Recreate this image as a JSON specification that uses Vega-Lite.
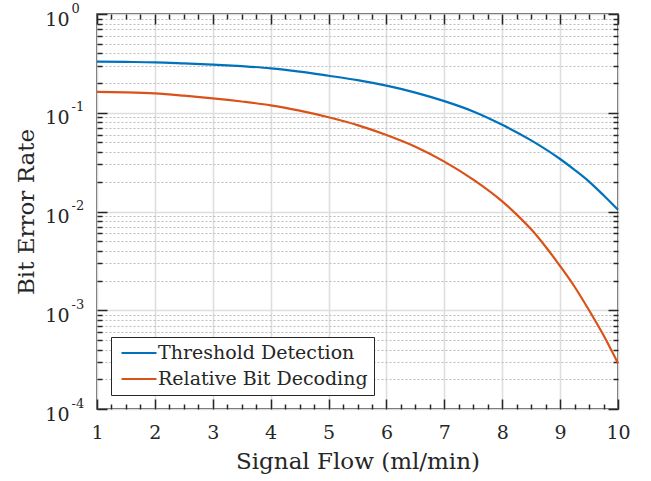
{
  "$schema": "https://vega.github.io/schema/vega-lite/v6.json",
  "autosize": "none",
  "width": 521,
  "height": 395,
  "padding": {"left": 97, "top": 14, "right": 33, "bottom": 72},
  "background": "white",
  "config": {
    "font": "DejaVu Serif",
    "view": {"stroke": "#262626", "strokeWidth": 1.5},
    "axis": {"domain": false, "labelFont": "DejaVu Serif", "titleFont": "DejaVu Serif", "labelColor": "#262626", "titleColor": "#262626", "tickColor": "#262626", "tickWidth": 1.5, "titleFontWeight": "normal", "labelFlush": false}
  },
  "data": {"values": [
    {"x": 1, "y": 0.329, "s": "Threshold Detection"},
    {"x": 1.5, "y": 0.327, "s": "Threshold Detection"},
    {"x": 2, "y": 0.324, "s": "Threshold Detection"},
    {"x": 2.5, "y": 0.316, "s": "Threshold Detection"},
    {"x": 3, "y": 0.307, "s": "Threshold Detection"},
    {"x": 3.5, "y": 0.296, "s": "Threshold Detection"},
    {"x": 4, "y": 0.282, "s": "Threshold Detection"},
    {"x": 4.5, "y": 0.261, "s": "Threshold Detection"},
    {"x": 5, "y": 0.237, "s": "Threshold Detection"},
    {"x": 5.5, "y": 0.214, "s": "Threshold Detection"},
    {"x": 6, "y": 0.188, "s": "Threshold Detection"},
    {"x": 6.5, "y": 0.16, "s": "Threshold Detection"},
    {"x": 7, "y": 0.131, "s": "Threshold Detection"},
    {"x": 7.5, "y": 0.103, "s": "Threshold Detection"},
    {"x": 8, "y": 0.0755, "s": "Threshold Detection"},
    {"x": 8.5, "y": 0.0525, "s": "Threshold Detection"},
    {"x": 9, "y": 0.034, "s": "Threshold Detection"},
    {"x": 9.25, "y": 0.0264, "s": "Threshold Detection"},
    {"x": 9.5, "y": 0.0201, "s": "Threshold Detection"},
    {"x": 9.75, "y": 0.0146, "s": "Threshold Detection"},
    {"x": 10, "y": 0.0104, "s": "Threshold Detection"},
    {"x": 1, "y": 0.163, "s": "Relative Bit Decoding"},
    {"x": 1.5, "y": 0.161, "s": "Relative Bit Decoding"},
    {"x": 2, "y": 0.157, "s": "Relative Bit Decoding"},
    {"x": 2.5, "y": 0.149, "s": "Relative Bit Decoding"},
    {"x": 3, "y": 0.14, "s": "Relative Bit Decoding"},
    {"x": 3.5, "y": 0.13, "s": "Relative Bit Decoding"},
    {"x": 4, "y": 0.119, "s": "Relative Bit Decoding"},
    {"x": 4.5, "y": 0.105, "s": "Relative Bit Decoding"},
    {"x": 5, "y": 0.09, "s": "Relative Bit Decoding"},
    {"x": 5.5, "y": 0.075, "s": "Relative Bit Decoding"},
    {"x": 6, "y": 0.0595, "s": "Relative Bit Decoding"},
    {"x": 6.5, "y": 0.0453, "s": "Relative Bit Decoding"},
    {"x": 7, "y": 0.032, "s": "Relative Bit Decoding"},
    {"x": 7.5, "y": 0.021, "s": "Relative Bit Decoding"},
    {"x": 8, "y": 0.01265, "s": "Relative Bit Decoding"},
    {"x": 8.25, "y": 0.0093, "s": "Relative Bit Decoding"},
    {"x": 8.5, "y": 0.0066, "s": "Relative Bit Decoding"},
    {"x": 8.75, "y": 0.0044, "s": "Relative Bit Decoding"},
    {"x": 9, "y": 0.0028, "s": "Relative Bit Decoding"},
    {"x": 9.25, "y": 0.00173, "s": "Relative Bit Decoding"},
    {"x": 9.5, "y": 0.001, "s": "Relative Bit Decoding"},
    {"x": 9.75, "y": 0.000557, "s": "Relative Bit Decoding"},
    {"x": 10, "y": 0.00029, "s": "Relative Bit Decoding"}
  ]},
  "resolve": {"axis": {"x": "independent", "y": "independent"}},
  "layer": [
    {
      "mark": {"type": "point", "opacity": 0},
      "encoding": {
        "x": {"field": "x", "type": "quantitative", "scale": {"domain": [1, 10], "nice": false, "zero": false},
          "axis": {"orient": "bottom", "values": [1.25,1.5,1.75,2.25,2.5,2.75,3.25,3.5,3.75,4.25,4.5,4.75,5.25,5.5,5.75,6.25,6.5,6.75,7.25,7.5,7.75,8.25,8.5,8.75,9.25,9.5,9.75], "labels": false, "grid": false, "tickSize": -5, "title": null}},
        "y": {"field": "y", "type": "quantitative", "scale": {"type": "log", "domain": [0.0001, 1], "nice": false},
          "axis": {"orient": "left", "values": [0.0002,0.0003,0.0004,0.0005,0.0006,0.0007,0.0008,0.0009,0.002,0.003,0.004,0.005,0.006,0.007,0.008,0.009,0.02,0.03,0.04,0.05,0.06,0.07,0.08,0.09,0.2,0.3,0.4,0.5,0.6,0.7,0.8,0.9], "labels": false, "grid": true, "gridColor": "#bcbcbc", "gridDash": [2, 2], "gridWidth": 1.2, "tickSize": -5, "title": null}}
      }
    },
    {
      "mark": {"type": "point", "opacity": 0},
      "encoding": {
        "x": {"field": "x", "type": "quantitative",
          "axis": {"orient": "top", "values": [1.25,1.5,1.75,2.25,2.5,2.75,3.25,3.5,3.75,4.25,4.5,4.75,5.25,5.5,5.75,6.25,6.5,6.75,7.25,7.5,7.75,8.25,8.5,8.75,9.25,9.5,9.75], "labels": false, "grid": false, "tickSize": -5, "title": null}},
        "y": {"field": "y", "type": "quantitative",
          "axis": {"orient": "right", "values": [0.0002,0.0003,0.0004,0.0005,0.0006,0.0007,0.0008,0.0009,0.002,0.003,0.004,0.005,0.006,0.007,0.008,0.009,0.02,0.03,0.04,0.05,0.06,0.07,0.08,0.09,0.2,0.3,0.4,0.5,0.6,0.7,0.8,0.9], "labels": false, "grid": false, "tickSize": -5, "title": null}}
      }
    },
    {
      "mark": {"type": "point", "opacity": 0},
      "encoding": {
        "x": {"field": "x", "type": "quantitative",
          "axis": {"orient": "top", "values": [1,2,3,4,5,6,7,8,9,10], "labels": false, "grid": false, "tickSize": -10, "title": null}},
        "y": {"field": "y", "type": "quantitative",
          "axis": {"orient": "right", "values": [0.0001, 0.001, 0.01, 0.1, 1], "labels": false, "grid": false, "tickSize": -10, "title": null}}
      }
    },
    {
      "mark": {"type": "point", "opacity": 0},
      "encoding": {
        "x": {"field": "x", "type": "quantitative",
          "axis": {"orient": "bottom", "values": [1,2,3,4,5,6,7,8,9,10], "labels": false, "grid": false, "tickSize": -10, "title": null}},
        "y": {"field": "y", "type": "quantitative",
          "axis": {"orient": "left", "values": [0.0001, 0.001, 0.01, 0.1, 1], "labelExpr": "datum.value >= 0.5 ? '0' : datum.value >= 0.05 ? '-1' : datum.value >= 0.005 ? '-2' : datum.value >= 0.0005 ? '-3' : '-4'", "labelAlign": "left", "labelBaseline": "middle", "labelPadding": 36, "labelFontSize": 13, "labelOffset": -6, "grid": false, "tickSize": -10, "title": null}}
      }
    },
    {
      "mark": {"type": "line", "strokeWidth": 2.2, "interpolate": "monotone"},
      "encoding": {
        "x": {"field": "x", "type": "quantitative",
          "axis": {"orient": "bottom", "values": [1,2,3,4,5,6,7,8,9,10], "ticks": false, "grid": true, "gridColor": "#dedede", "gridWidth": 1.6, "labelFontSize": 19, "labelPadding": 14, "title": "Signal Flow (ml/min)", "titleFontSize": 23, "titlePadding": 8}},
        "y": {"field": "y", "type": "quantitative",
          "axis": {"orient": "left", "values": [0.0001, 0.001, 0.01, 0.1, 1], "ticks": false, "grid": true, "gridColor": "#dedede", "gridWidth": 1.6, "labelFontSize": 19, "labelPadding": 28, "labelAlign": "right", "labelBaseline": "middle", "labelOffset": 5,
            "labelExpr": "'10'",
            "title": "Bit Error Rate", "titleFontSize": 23, "titlePadding": 6}},
        "color": {"field": "s", "type": "nominal",
          "scale": {"domain": ["Threshold Detection", "Relative Bit Decoding"], "range": ["#0072BD", "#D95319"]},
          "legend": {"orient": "bottom-left", "offset": 14, "title": null, "fillColor": "white", "strokeColor": "#262626", "padding": 6, "labelFontSize": 19, "labelFont": "DejaVu Serif", "labelColor": "#262626", "labelLimit": 400, "symbolType": "M-2,0H2", "symbolSize": 306, "symbolStrokeWidth": 2.2, "symbolOffset": 12, "rowPadding": 6, "labelOffset": 9}}
      }
    }
  ]
}
